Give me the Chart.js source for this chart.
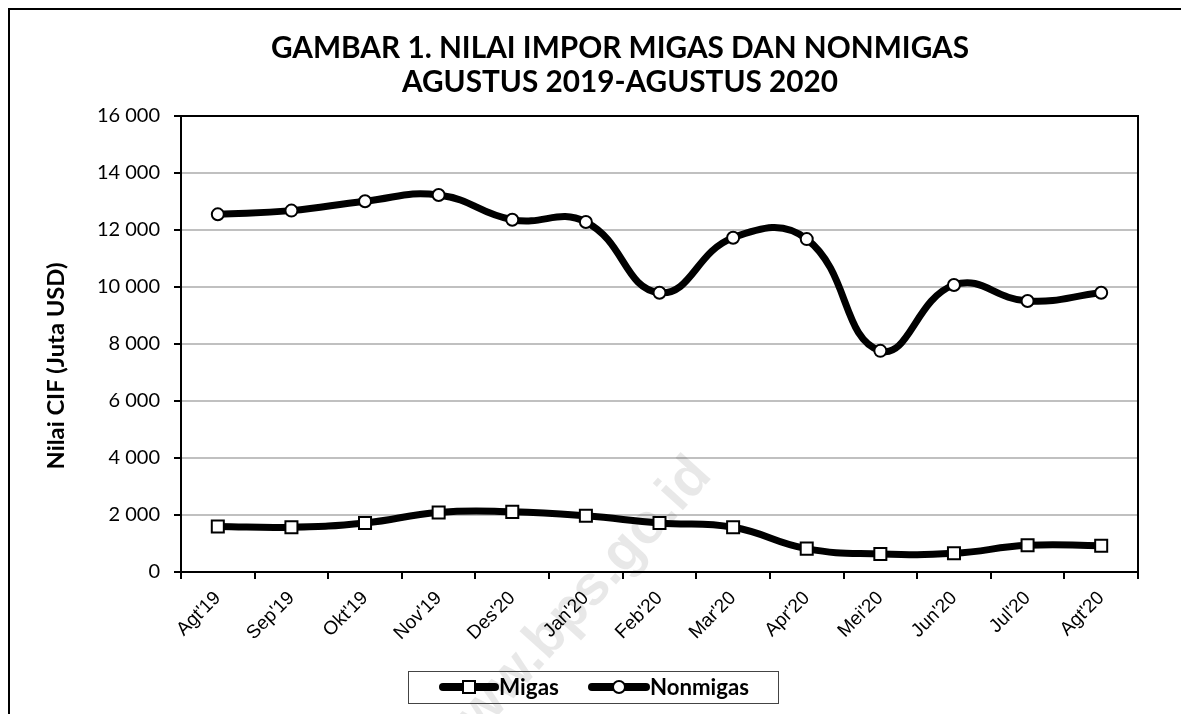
<!DOCTYPE html>
<html><head><meta charset="utf-8">
<script src="https://cdn.jsdelivr.net/npm/chart.js@4.4.0/dist/chart.umd.min.js"></script>
<style>html,body{margin:0;padding:0;background:#fff;overflow:hidden;}</style>
</head><body>
<canvas id="c" width="1181" height="714" style="display:block;width:1181px;height:714px"></canvas>
<script>
const categories = ["Agt'19","Sep'19","Okt'19","Nov'19","Des'20","Jan'20","Feb'20","Mar'20","Apr'20","Mei'20","Jun'20","Jul'20","Agt'20"];
const migas = [1600,1570,1720,2090,2110,1970,1720,1570,820,630,655,935,925];
const nonmigas = [12550,12680,13010,13230,12360,12280,9800,11730,11680,7760,10070,9510,9800];
const yTickValues = [0,2000,4000,6000,8000,10000,12000,14000,16000];
const yTickLabels = ["0","2 000","4 000","6 000","8 000","10 000","12 000","14 000","16 000"];
const titleLines = ["GAMBAR 1. NILAI IMPOR MIGAS DAN NONMIGAS","AGUSTUS 2019-AGUSTUS 2020"];
const yTitle = "Nilai CIF (Juta USD)";
const seriesNames = ["Migas","Nonmigas"];
const watermark = "www.bps.go.id";

function fitFont(ctx, text, weight, family, target){
  ctx.font = weight + " 100px " + family;
  return 100 * target / ctx.measureText(text).width;
}

const decor = {
  id:'decor',
  beforeDraw(chart){
    const ctx = chart.ctx;
    ctx.save();
    ctx.fillStyle = '#fff';
    ctx.fillRect(0,0,chart.width,chart.height);
    ctx.strokeStyle = '#000'; ctx.lineWidth = 2;
    ctx.beginPath();
    ctx.moveTo(9, chart.height); ctx.lineTo(9, 9); ctx.lineTo(chart.width, 9);
    ctx.stroke();
    ctx.restore();
  },
  beforeDatasetsDraw(chart){
    const ctx = chart.ctx;
    ctx.save();
    ctx.translate(702, 466);
    ctx.rotate(-48*Math.PI/180);
    ctx.font = "bold 56px 'Liberation Sans'";
    ctx.fillStyle = 'rgba(0,0,0,0.09)';
    ctx.textAlign = 'right'; ctx.textBaseline = 'middle';
    ctx.fillText(watermark, 0, 0);
    ctx.restore();
  },
  afterDraw(chart){
    const ctx = chart.ctx, a = chart.chartArea;
    ctx.save();
    ctx.strokeStyle = '#000'; ctx.lineWidth = 2;
    ctx.strokeRect(a.left, a.top, a.right - a.left, a.bottom - a.top);
    const ts = fitFont(ctx, titleLines[0], 'bold', 'Lato', 698);
    ctx.font = 'bold ' + ts + 'px Lato';
    ctx.fillStyle = '#000'; ctx.textAlign = 'center'; ctx.textBaseline = 'middle';
    ctx.fillText(titleLines[0], 620, 48);
    ctx.fillText(titleLines[1], 620, 82);
    const ys = fitFont(ctx, yTitle, 'bold', 'Lato', 207);
    ctx.save();
    ctx.translate(56, 366); ctx.rotate(-Math.PI/2);
    ctx.font = 'bold ' + ys + 'px Lato';
    ctx.fillText(yTitle, 0, 0);
    ctx.restore();
    // legend
    ctx.lineWidth = 1; ctx.strokeStyle = '#444';
    ctx.strokeRect(408.5, 671.5, 370, 32);
    const cy = 687;
    const items = [
      {x0:443, x1:495, mx:469, tx:499, style:'rect', name:seriesNames[0], tw:60},
      {x0:592, x1:646, mx:619, tx:650, style:'circle', name:seriesNames[1], tw:99}
    ];
    items.forEach(it=>{
      ctx.strokeStyle='#000'; ctx.lineWidth=8; ctx.lineCap='round';
      ctx.beginPath(); ctx.moveTo(it.x0, cy); ctx.lineTo(it.x1, cy); ctx.stroke();
      ctx.lineCap='butt'; ctx.lineWidth=2; ctx.fillStyle='#fff';
      if (it.style==='rect'){ ctx.fillRect(it.mx-6, cy-6, 12, 12); ctx.strokeRect(it.mx-6, cy-6, 12, 12); }
      else { ctx.beginPath(); ctx.arc(it.mx, cy, 6, 0, Math.PI*2); ctx.fill(); ctx.stroke(); }
      const fs = fitFont(ctx, it.name, 'bold', 'Lato', it.tw);
      ctx.font = 'bold ' + fs + 'px Lato';
      ctx.fillStyle='#000'; ctx.textAlign='left'; ctx.textBaseline='middle';
      ctx.fillText(it.name, it.tx, cy+1);
    });
    ctx.restore();
  }
};

new Chart(document.getElementById('c'), {
  type:'line',
  data:{
    labels: categories,
    datasets:[
      {label:seriesNames[0], data:migas, borderColor:'#000', borderWidth:7, tension:0.45,
       pointStyle:'rect', pointRadius:8.5, pointBackgroundColor:'#fff', pointBorderColor:'#000', pointBorderWidth:2, fill:false},
      {label:seriesNames[1], data:nonmigas, borderColor:'#000', borderWidth:7, tension:0.45,
       pointStyle:'circle', pointRadius:6, pointBackgroundColor:'#fff', pointBorderColor:'#000', pointBorderWidth:2, fill:false}
    ]
  },
  options:{
    responsive:false, animation:false, devicePixelRatio:1,
    layout:{padding:{left:0,right:43,top:116,bottom:0}},
    plugins:{legend:{display:false}, title:{display:false}, tooltip:{enabled:false}},
    scales:{
      x:{
        offset:true,
        grid:{offset:true, drawOnChartArea:false, tickLength:7, color:'#000', lineWidth:2},
        border:{color:'#000', width:2},
        ticks:{minRotation:45, maxRotation:45, autoSkip:false, color:'#000', padding:8,
               font:{family:"'Liberation Sans'", size:19}},
        afterFit(s){ s.height = 142; }
      },
      y:{
        min:0, max:16000,
        afterBuildTicks(s){ s.ticks = yTickValues.map(v=>({value:v})); },
        grid:{color:'#c0c0c0', lineWidth:2, tickColor:'#000', tickLength:7},
        border:{color:'#000', width:2},
        ticks:{color:'#000', padding:14, font:{family:'Lato', size:20},
               callback:(v)=>{ const i = yTickValues.indexOf(v); return i>=0 ? yTickLabels[i] : ''; }},
        afterFit(s){ s.width = 181; }
      }
    }
  },
  plugins:[decor]
});
</script>
</body></html>
